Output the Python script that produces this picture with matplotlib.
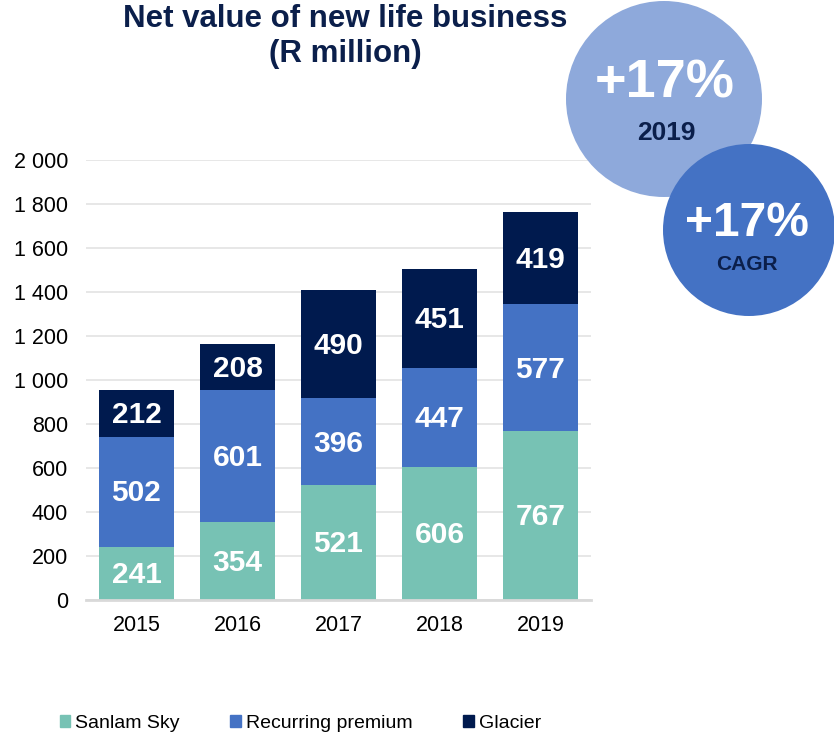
import matplotlib.pyplot as plt
import numpy as np
from matplotlib.patches import Circle, Patch
from matplotlib.ticker import FuncFormatter, MultipleLocator

plt.rcParams['font.family'] = ['Liberation Sans', 'DejaVu Sans']

# data
years = ['2015', '2016', '2017', '2018', '2019']
sanlam_sky = [241, 354, 521, 606, 767]
recurring = [502, 601, 396, 447, 577]
glacier = [212, 208, 490, 451, 419]
series_names = ['Sanlam Sky', 'Recurring premium', 'Glacier']

colors = ['#77C2B4', '#4472C4', '#001A4E']
navy = '#0B1F4B'

fig = plt.figure(figsize=(8.34, 7.43), dpi=100)
ax = fig.add_axes([0.1031, 0.1925, 0.6055, 0.5922])

x = np.arange(len(years))
bottom = np.zeros(len(years))
for vals, col in zip([sanlam_sky, recurring, glacier], colors):
    bars = ax.bar(x, vals, width=0.75, bottom=bottom, color=col, zorder=3)
    for b, v, b0 in zip(bars, vals, bottom):
        ax.text(b.get_x() + b.get_width() / 2, b0 + v / 2 - 8, str(v),
                ha='center', va='center', color='white',
                fontsize=21.5, fontweight='bold', zorder=4)
    bottom += np.array(vals)

ax.set_xlim(-0.5, 4.5)
ax.set_ylim(0, 2000)
ax.set_xticks(x)
ax.set_xticklabels(years)
ax.yaxis.set_major_locator(MultipleLocator(200))
ax.yaxis.set_major_formatter(FuncFormatter(lambda v, p: f"{int(v):,}".replace(",", " ")))
ax.tick_params(axis='both', length=0, labelsize=15.5, colors='black')
ax.tick_params(axis='y', pad=13)
ax.tick_params(axis='x', pad=11)
ax.grid(axis='y', color='#E3E3E3', linewidth=1.2, zorder=0)
for s in ['top', 'right', 'left']:
    ax.spines[s].set_visible(False)
ax.spines['bottom'].set_color('#D9D9D9')
ax.spines['bottom'].set_linewidth(2)
ax.spines['bottom'].set_zorder(5)

fig.text(0.414, 0.994, 'Net value of new life business\n(R million)',
         ha='center', va='top', fontsize=22.5, fontweight='bold',
         color=navy, linespacing=1.18)

# growth bubbles
ov = fig.add_axes([0, 0, 1, 1], zorder=10)
ov.set_xlim(0, 834)
ov.set_ylim(743, 0)
ov.axis('off')
ov.add_patch(Circle((664, 99), 98, color='#8EA9DB', lw=0))
ov.text(665, 84, '+17%', ha='center', va='center', color='white',
        fontsize=39, fontweight='bold')
ov.text(666, 133, '2019', ha='center', va='center', color=navy,
        fontsize=19, fontweight='bold')
ov.add_patch(Circle((749, 230), 86, color='#4472C4', lw=0))
ov.text(747, 223, '+17%', ha='center', va='center', color='white',
        fontsize=34.5, fontweight='bold')
ov.text(747, 265, 'CAGR', ha='center', va='center', color=navy,
        fontsize=15, fontweight='bold')

handles = [Patch(color=c) for c in colors]
fig.legend(handles, series_names, loc='center', bbox_to_anchor=(0.36, 0.026),
           ncol=3, frameon=False, fontsize=14, handlelength=0.55,
           handleheight=0.55, handletextpad=0.25, columnspacing=2.6)

fig.savefig('out.png', dpi=100)
